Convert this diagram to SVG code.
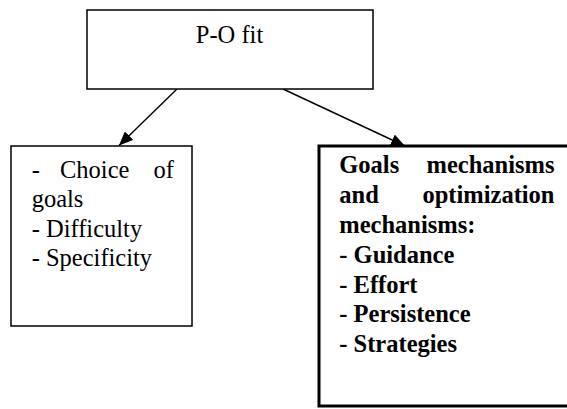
<svg xmlns="http://www.w3.org/2000/svg" width="567" height="409" viewBox="0 0 567 409">
<style>
.box{fill:#fff;stroke:#000;stroke-width:1.5}
.thick{fill:#fff;stroke:#000;stroke-width:3}
text{font-family:'Liberation Serif',serif;font-size:24.5px;fill:#000}
.b{font-weight:bold}
.edge{stroke:#000;stroke-width:1.4;fill:none}
</style>
<defs>
<marker id="ah" viewBox="0 0 14 12" refX="14" refY="6" markerWidth="14" markerHeight="12" markerUnits="userSpaceOnUse" orient="auto">
<path d="M0,0 L14,6 L0,12 Z" fill="#000"/>
</marker>
</defs>
<rect width="567" height="409" fill="#fff"/>
<g id="connectors">
<line class="edge" x1="177" y1="89" x2="119" y2="145.5" marker-end="url(#ah)"/>
<line class="edge" x1="283" y1="89" x2="405" y2="146" marker-end="url(#ah)"/>
</g>
<g id="node-pofit">
<rect class="box" x="87" y="10" width="286" height="79"/>
<text x="229.5" y="43.3" text-anchor="middle">P-O fit</text>
</g>
<g id="node-goals">
<rect class="box" x="11" y="146" width="181" height="180"/>
<text y="178"><tspan x="31.7">-</tspan><tspan x="60">Choice</tspan><tspan x="174" text-anchor="end">of</tspan></text>
<text x="31.7" y="207">goals</text>
<text x="31.7" y="236.5">- Difficulty</text>
<text x="31.7" y="266">- Specificity</text>
</g>
<g id="node-mechanisms">
<rect class="thick" x="319" y="146" width="260" height="260"/>
<text class="b" y="173.3"><tspan x="339.3">Goals</tspan><tspan x="554.5" text-anchor="end">mechanisms</tspan></text>
<text class="b" y="203.3"><tspan x="339.3">and</tspan><tspan x="554.5" text-anchor="end">optimization</tspan></text>
<text class="b" x="339.3" y="233.3">mechanisms:</text>
<text class="b" x="339.3" y="263">- Guidance</text>
<text class="b" x="339.3" y="292.7">- Effort</text>
<text class="b" x="339.3" y="322.3">- Persistence</text>
<text class="b" x="339.3" y="352">- Strategies</text>
</g>
</svg>
